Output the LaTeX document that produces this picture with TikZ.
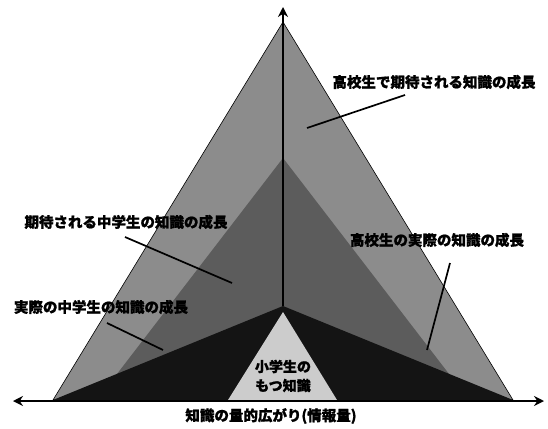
\documentclass[tikz,border=0pt]{standalone}
\usepackage{fontspec}
\newfontfamily\jp[BoldFeatures={FakeBold=1.2}]{Noto Sans CJK JP}
\usetikzlibrary{arrows.meta}
\definecolor{gA}{gray}{0.55}
\definecolor{gB}{gray}{0.36}
\definecolor{gD}{gray}{0.08}
\definecolor{gE}{gray}{0.80}
\begin{document}
\begin{tikzpicture}[x=1pt,y=-1pt,
  lbl/.style={font=\jp\bfseries\fontsize{14.5}{18}\selectfont, inner sep=0pt, align=center},
  leader/.style={line width=1.7pt},
  axisline/.style={line width=2.2pt}]
\useasboundingbox (0,0) rectangle (548,428);
% regions
\fill[gA, draw=black, line width=0.6pt] (53,400) -- (283,22) -- (513,400) -- cycle;
\fill[gB] (97,400) -- (283,158) -- (469,400) -- cycle;
\fill[gD] (53,400) -- (283,306) -- (513,400) -- cycle;
\fill[gE] (228,400) -- (283,312) -- (337,400) -- cycle;
% axes
\coordinate (O) at (283,306);
\coordinate (top) at (283,7);
\coordinate (L) at (13,401);
\coordinate (R) at (544,401);
\draw[axisline, -{Stealth[length=10pt,width=10pt]}] (O) -- (top);
\draw[axisline, {Stealth[length=10pt,width=10pt]}-{Stealth[length=10pt,width=10pt]}] (L) -- (R);
% labels
\node[lbl] (hsexp) at (434,82) {高校生で期待される知識の成長};
\node[lbl] (jhexp) at (126,222) {期待される中学生の知識の成長};
\node[lbl] (hsact) at (437,240) {高校生の実際の知識の成長};
\node[lbl] (jhact) at (101,307) {実際の中学生の知識の成長};
\node[lbl, font=\jp\bfseries\fontsize{14}{19}\selectfont] (elem) at (283,376) {小学生の\\もつ知識};
\node[lbl] (xlab) at (271,416) {知識の量的広がり(情報量)};
% leaders
\coordinate (p1) at (307,128);
\coordinate (p2) at (232,283);
\coordinate (p3) at (163,350);
\coordinate (p4) at (427,350);
\coordinate (s1) at (405,95);
\coordinate (s2) at (125,237);
\coordinate (s3) at (107,323);
\coordinate (s4) at (450,263);
\draw[leader] (s1) -- (p1);
\draw[leader] (s2) -- (p2);
\draw[leader] (s3) -- (p3);
\draw[leader] (s4) -- (p4);
\end{tikzpicture}
\end{document}
